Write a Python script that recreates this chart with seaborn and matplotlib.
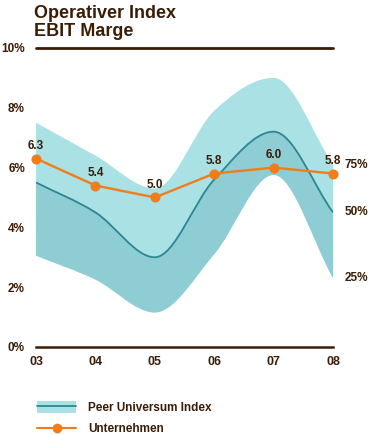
import matplotlib
matplotlib.use("Agg")
import matplotlib.pyplot as plt
import seaborn as sns
import pandas as pd
from matplotlib.path import Path
from matplotlib.patches import PathPatch, Patch
from matplotlib.lines import Line2D

# Data
years = ["03", "04", "05", "06", "07", "08"]
company = [6.3, 5.4, 5.0, 5.8, 6.0, 5.8]
peer_upper = [7.5, 6.4, 5.3, 7.9, 9.0, 6.1]    # 75% quantile
peer_median = [5.5, 4.5, 3.0, 5.6, 7.2, 4.5]   # 50% quantile
peer_lower = [3.05, 2.25, 1.15, 3.1, 5.75, 2.3]  # 25% quantile
y_ticks = [0, 2, 4, 6, 8, 10]
quantile_labels = ["75%", "50%", "25%"]

BROWN = "#3b1d06"
ORANGE = "#f07d1a"
BAND_LIGHT = "#a9e1e5"
BAND_DARK = "#8ecdd3"
MEDIAN = "#2b8791"


def tangents(x, y):
    """Monotone-style slopes: flat at local extremes."""
    n = len(y)
    m = []
    for i in range(n):
        if i == 0:
            m.append((y[1] - y[0]) / (x[1] - x[0]))
        elif i == n - 1:
            m.append((y[-1] - y[-2]) / (x[-1] - x[-2]))
        else:
            d0 = (y[i] - y[i - 1]) / (x[i] - x[i - 1])
            d1 = (y[i + 1] - y[i]) / (x[i + 1] - x[i])
            m.append(0.0 if d0 * d1 <= 0 else (d0 + d1) / 2)
    return m


def bezier(x, y, start=True):
    """Bezier vertices/codes through the points (smooth curve drawn by matplotlib)."""
    m = tangents(x, y)
    verts = [(x[0], y[0])]
    codes = [Path.MOVETO if start else Path.LINETO]
    for i in range(len(x) - 1):
        h = x[i + 1] - x[i]
        verts += [(x[i] + h / 3, y[i] + m[i] * h / 3),
                  (x[i + 1] - h / 3, y[i + 1] - m[i + 1] * h / 3),
                  (x[i + 1], y[i + 1])]
        codes += [Path.CURVE4] * 3
    return verts, codes


def band(x, top, bottom):
    v1, c1 = bezier(x, top)
    v2, c2 = bezier(x[::-1], bottom[::-1], start=False)
    return Path(v1 + v2 + [v1[0]], c1 + c2 + [Path.CLOSEPOLY])


sns.set_style("white")
plt.rcParams["font.family"] = ["Liberation Sans", "DejaVu Sans"]
plt.rcParams["font.weight"] = "bold"

fig = plt.figure(figsize=(3.68, 4.34), dpi=100)
ax = fig.add_axes([0.098, 0.2005, 0.807, 0.689])

xpos = list(range(len(years)))
ax.add_patch(PathPatch(band(xpos, peer_upper, peer_median), facecolor=BAND_LIGHT, edgecolor="none"))
ax.add_patch(PathPatch(band(xpos, peer_median, peer_lower), facecolor=BAND_DARK, edgecolor="none"))
mv, mc = bezier(xpos, peer_median)
ax.add_patch(PathPatch(Path(mv, mc), facecolor="none", edgecolor=MEDIAN, lw=1.3))

df = pd.DataFrame({"x": xpos, "value": company})
sns.lineplot(data=df, x="x", y="value", ax=ax, color=ORANGE, lw=1.7,
             marker="o", markersize=6.5, markeredgecolor=ORANGE, clip_on=False, zorder=5)
for xi, v in zip(xpos, company):
    ax.annotate(f"{v:.1f}", (xi, v), xytext=(0, 5), textcoords="offset points",
                ha="center", va="bottom", fontsize=8.5, color=BROWN, fontweight="bold")

# quantile labels at right end of band
for lab, v in zip(quantile_labels, [peer_upper[-1], peer_median[-1], peer_lower[-1]]):
    ax.annotate(lab, (xpos[-1], v), xytext=(8.5, 0), textcoords="offset points",
                ha="left", va="center", fontsize=8.5, color=BROWN, fontweight="bold",
                annotation_clip=False)

ax.axhline(10, color=BROWN, lw=2, clip_on=False)
ax.set_xlim(0, len(years) - 1)
ax.set_ylim(0, 10)
ax.set_xticks(xpos)
ax.set_xticklabels(years)
ax.set_yticks(y_ticks)
ax.set_yticklabels([f"{t}%" for t in y_ticks])
ax.set_xlabel("")
ax.set_ylabel("")
for s in ["top", "right", "left"]:
    ax.spines[s].set_visible(False)
ax.spines["bottom"].set_color(BROWN)
ax.spines["bottom"].set_linewidth(1.8)
ax.tick_params(axis="x", direction="inout", length=9, width=1.5, color=BROWN,
               labelsize=9, labelcolor=BROWN, pad=2)
ax.tick_params(axis="y", length=0, labelsize=8.5, labelcolor=BROWN, pad=8)

fig.text(0.093, 0.988, "Operativer Index\nEBIT Marge", ha="left", va="top",
         fontsize=13, fontweight="bold", color=BROWN, linespacing=1.05)

band_handle = (Patch(facecolor=BAND_LIGHT, edgecolor="none"), Line2D([], [], color=MEDIAN, lw=1.3))
line_handle = Line2D([], [], color=ORANGE, lw=1.5, marker="o", markersize=6)
fig.legend([band_handle, line_handle], ["Peer Universum Index", "Unternehmen"],
           loc="upper left", bbox_to_anchor=(0.072, 0.1), frameon=False,
           fontsize=8.5, handlelength=3.3, handleheight=1.1, labelspacing=0.75,
           handletextpad=1.0, labelcolor=BROWN)

fig.savefig("out.png", dpi=100)
